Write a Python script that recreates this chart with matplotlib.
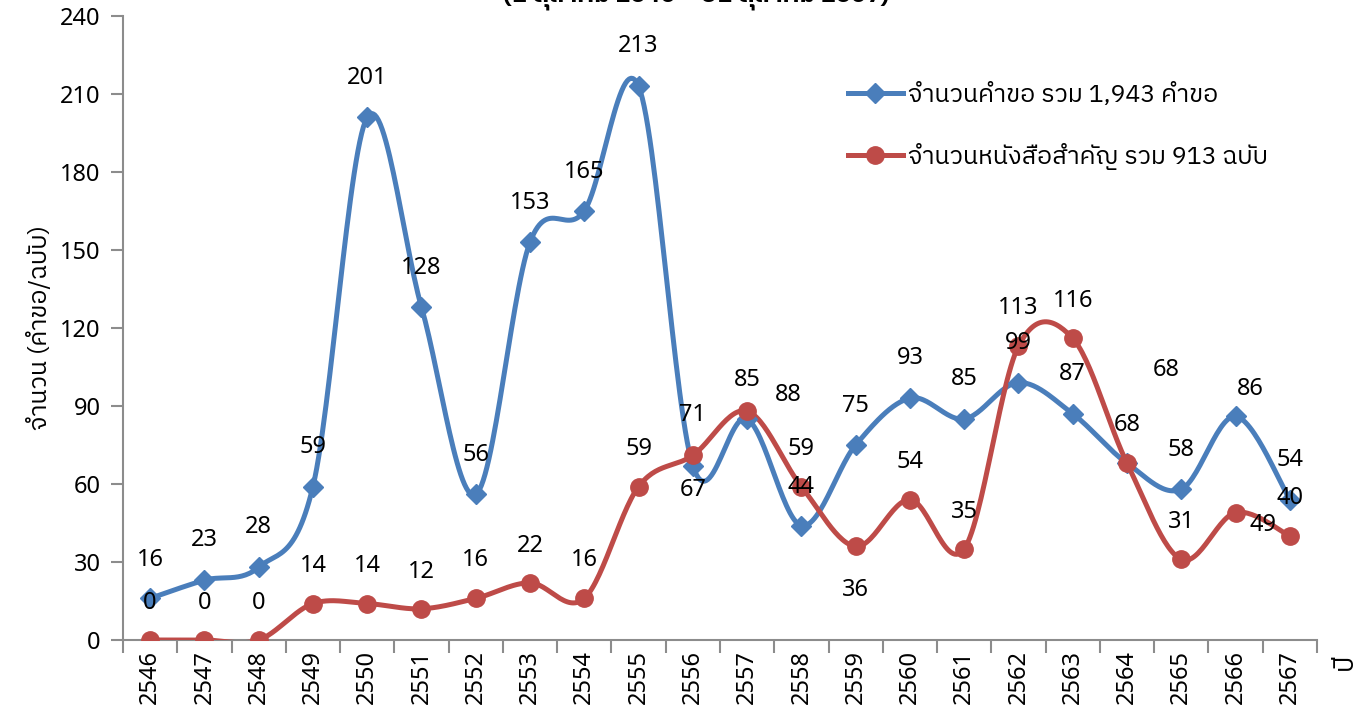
import numpy as np
import matplotlib
matplotlib.use('Agg')
import matplotlib.pyplot as plt
from matplotlib import font_manager, ft2font
from matplotlib.lines import Line2D

# ---- data ----
years = ['2546', '2547', '2548', '2549', '2550', '2551', '2552', '2553', '2554', '2555', '2556',
         '2557', '2558', '2559', '2560', '2561', '2562', '2563', '2564', '2565', '2566', '2567']
requests = [16, 23, 28, 59, 201, 128, 56, 153, 165, 213, 67, 85, 44, 75, 93, 85, 99, 87, 68, 58, 86, 54]
documents = [0, 0, 0, 14, 14, 12, 16, 22, 16, 59, 71, 88, 59, 36, 54, 35, 113, 116, 68, 31, 49, 40]

label_req = 'จำนวนคำขอ รวม 1,943 คำขอ'
label_doc = 'จำนวนหนังสือสำคัญ รวม 913 ฉบับ'
ylabel = 'จำนวน (คำขอ/ฉบับ)'
xlabel = 'ปี'
title = '(1 ตุลาคม 2546 – 31 ตุลาคม 2567)'

# data label offsets (pixels) relative to each point
off_req = [(0, 38), (0, 40), (0, 40), (0, 40), (0, 39), (0, 39), (0, 39), (0, 39), (0, 39), (0, 40), (0, -24),
           (0, 39), (0, 39), (0, 39), (0, 40), (0, 40), (0, 40), (0, 40), (0, 38), (0, 39), (15, 27), (0, 40)]
off_doc = [(0, 37), (0, 37), (0, 37), (0, 38), (0, 38), (0, 37), (0, 38), (0, 37), (0, 38), (0, 38), (0, 40),
           (41, 16), (0, 38), (0, -44), (0, 38), (0, 37), (0, 38), (0, 37), (39, 93), (0, 37), (27, -12), (0, 38)]


def find_thai_font():
    best = None
    for f in font_manager.fontManager.ttflist:
        try:
            cmap = ft2font.FT2Font(f.fname).get_charmap()
        except Exception:
            continue
        if 0x0E08 in cmap and 0x0E33 in cmap:
            if best is None or ('Sans' in f.name and 'Sans' not in best):
                best = f.name
    return best


thai = find_thai_font()
fams = ([thai] if thai else []) + ['Noto Sans', 'DejaVu Sans']
plt.rcParams['font.family'] = fams
NUM = ['Noto Sans', 'DejaVu Sans']

BLUE = '#4a7ebb'
RED = '#be4b48'
AXIS = '#8c8c8c'


def excel_smooth(x, y, n=30):
    # bezier smoothing similar to spreadsheet "smoothed line"
    x = np.asarray(x, float)
    y = np.asarray(y, float)
    px = np.concatenate([[x[0]], x, [x[-1]]])
    py = np.concatenate([[y[0]], y, [y[-1]]])
    t = np.linspace(0, 1, n)[:, None]
    xs, ys = [], []
    for i in range(1, len(px) - 2):
        p0 = np.array([px[i - 1], py[i - 1]])
        p1 = np.array([px[i], py[i]])
        p2 = np.array([px[i + 1], py[i + 1]])
        p3 = np.array([px[i + 2], py[i + 2]])
        c1 = p1 + (p2 - p0) / 6
        c2 = p2 - (p3 - p1) / 6
        b = ((1 - t) ** 3) * p1 + 3 * ((1 - t) ** 2) * t * c1 + 3 * (1 - t) * t ** 2 * c2 + t ** 3 * p2
        xs.append(b[:, 0])
        ys.append(b[:, 1])
    return np.concatenate(xs), np.concatenate(ys)


fig = plt.figure(figsize=(13.65, 7.23), dpi=100)
ax = fig.add_axes([0.0901, 0.1148, 0.8747, 0.8632])

x = np.arange(len(years))
for vals, col, mk, ms in [(requests, BLUE, 'D', 10), (documents, RED, 'o', 12.5)]:
    # scale x to keep smoothing shape in screen proportions
    sx, sy = excel_smooth(x * 54.3 / 2.6, vals)
    ax.plot(sx * 2.6 / 54.3, sy, color=col, lw=3.6, solid_capstyle='round', zorder=3)
    ax.plot(x, vals, linestyle='none', marker=mk, ms=ms, color=col, zorder=4)

for vals, offs in [(requests, off_req), (documents, off_doc)]:
    for xi, v, (dx, dy) in zip(x, vals, offs):
        ax.annotate(str(v), (xi, v), xytext=(dx, dy), textcoords='offset pixels',
                    ha='center', va='center', fontsize=17, family=NUM, color='black', zorder=5)

ax.set_xlim(-0.5, len(years) - 0.5)
ax.set_ylim(0, 240)
ax.set_yticks(np.arange(0, 241, 30))
ax.set_xticks(x)
ax.set_xticklabels(years, rotation=90, fontsize=17, family=NUM)
ax.set_xticks(np.arange(-0.5, len(years), 1), minor=True)
ax.tick_params(axis='x', which='major', length=0, pad=7)
ax.tick_params(axis='x', which='minor', length=9, width=1.5, color=AXIS)
ax.tick_params(axis='y', length=9, width=1.5, color=AXIS, labelsize=17, pad=7)
for lab in ax.get_yticklabels():
    lab.set_family(NUM)
for s in ['top', 'right']:
    ax.spines[s].set_visible(False)
for s in ['left', 'bottom']:
    ax.spines[s].set_color(AXIS)
    ax.spines[s].set_linewidth(1.5)

ax.set_ylabel(ylabel, fontsize=18, labelpad=6)
fig.text(0.985, 0.085, xlabel, rotation=90, fontsize=19, ha='center', va='center')
fig.text(0.51, 1 - 1 / 723, title, fontsize=18, fontweight='bold', ha='center', va='baseline')

handles = [Line2D([], [], color=BLUE, lw=3.6, marker='D', ms=10),
           Line2D([], [], color=RED, lw=3.6, marker='o', ms=12.5)]
fig.legend(handles, [label_req, label_doc], loc='upper left', bbox_to_anchor=(0.612, 0.903),
           frameon=False, fontsize=18, handlelength=2.2, handletextpad=0.2, labelspacing=1.45,
           borderpad=0)

fig.savefig('out.png', dpi=100)
